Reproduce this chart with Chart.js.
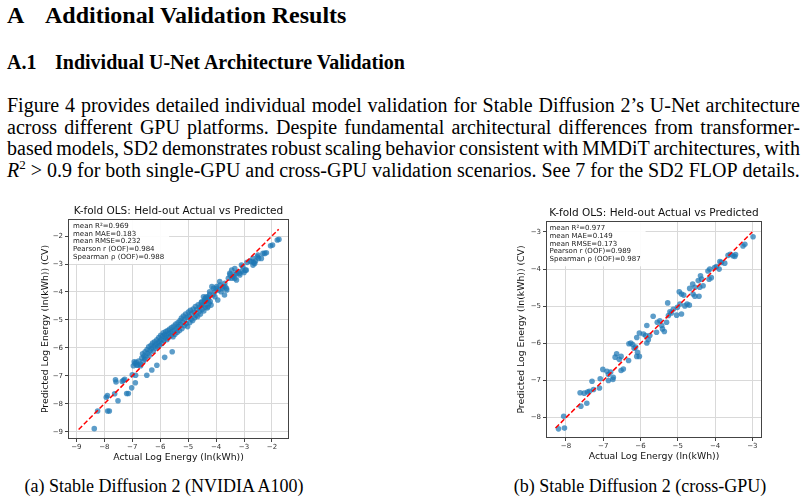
<!DOCTYPE html>
<html><head><meta charset="utf-8">
<script src="https://cdn.jsdelivr.net/npm/chart.js@4/dist/chart.umd.min.js"></script>
<style>
html,body{margin:0;padding:0;background:#fff;width:807px;height:500px;overflow:hidden;}
body{position:relative;font-family:"Liberation Serif","Times New Roman",serif;color:#000;}
.t{position:absolute;white-space:nowrap;line-height:1;}
.h1{font-weight:bold;font-size:24px;}
.h2{font-weight:bold;font-size:20px;}
.line{position:absolute;left:7px;width:793px;font-size:20px;line-height:1;display:flex;justify-content:space-between;white-space:nowrap;}
.cap{font-size:18px;}
canvas{position:absolute;}
</style></head>
<body>
<div class="t h1" style="left:7px;top:3px;">A</div>
<div class="t h1" style="left:45px;top:3px;">Additional Validation Results</div>
<div class="t h2" style="left:7px;top:52px;">A.1</div>
<div class="t h2" style="left:55px;top:52px;">Individual U-Net Architecture Validation</div>
<div id="para"></div>
<canvas id="cA" width="310" height="270" style="left:0px;top:200px;"></canvas>
<canvas id="cB" width="310" height="270" style="left:480px;top:200px;"></canvas>
<div class="t cap" style="left:164px;top:477px;transform:translateX(-50%);">(a) Stable Diffusion 2 (NVIDIA A100)</div>
<div class="t cap" style="left:640px;top:477px;transform:translateX(-50%);">(b) Stable Diffusion 2 (cross-GPU)</div>
<script>
// ---------- text ----------
const paraLines = [
  "Figure 4 provides detailed individual model validation for Stable Diffusion 2\u2019s U-Net architecture",
  "across different GPU platforms. Despite fundamental architectural differences from transformer-",
  "based models, SD2 demonstrates robust scaling behavior consistent with MMDiT architectures, with",
  "@R2 > 0.9 for both single-GPU and cross-GPU validation scenarios. See 7 for the SD2 FLOP details."
];
const paraTops = [95, 117, 138, 160];

// ---------- chart data ----------
const chartTitle = "K-fold OLS: Held-out Actual vs Predicted";
const xAxisTitle = "Actual Log Energy (ln(kWh))";
const yAxisTitle = "Predicted Log Energy (ln(kWh)) (CV)";

const ticksA = [-9, -8, -7, -6, -5, -4, -3, -2];
const ticksB = [-8, -7, -6, -5, -4, -3];
const rangeAx = [-9.30, -1.39];
const rangeAy = [-9.26, -1.39];
const rangeBx = [-8.535, -2.74];
const rangeBy = [-8.547, -2.705];
const refLineA = [-8.92, -1.76];
const refLineB = [-8.28, -3.0];

const statsA = ["mean R\u00b2=0.969", "mean MAE=0.183", "mean RMSE=0.232", "Pearson r (OOF)=0.984", "Spearman \u03c1 (OOF)=0.988"];
const statsB = ["mean R\u00b2=0.977", "mean MAE=0.149", "mean RMSE=0.173", "Pearson r (OOF)=0.989", "Spearman \u03c1 (OOF)=0.987"];

// (a) NVIDIA A100: [actual, predicted]
const pointsA = [
 [-8.36,-8.89],[-8.24,-8.26],[-7.88,-8.26],[-7.82,-8.26],[-7.93,-7.77],[-7.89,-7.71],[-7.63,-7.64],[-7.51,-7.89],
 [-7.60,-7.14],[-7.58,-7.22],[-7.36,-7.20],[-7.31,-7.16],[-7.27,-7.12],[-7.20,-7.63],[-7.14,-7.63],[-7.02,-7.43],
 [-6.89,-7.25],[-6.93,-6.50],[-6.90,-6.56],[-6.96,-6.64],[-7.00,-6.96],[-6.88,-6.98],[-6.84,-6.62],[-6.70,-6.64],
 [-6.60,-6.48],[-6.55,-6.40],[-6.48,-6.98],[-6.30,-6.79],[-6.12,-6.62],[-5.84,-6.34],[-5.57,-6.14],
 [-6.86,-6.52],[-6.80,-6.61],[-6.77,-6.47],[-6.71,-6.58],[-6.66,-6.36],[-6.63,-6.21],[-6.58,-6.29],[-6.54,-6.14],
 [-6.51,-6.33],[-6.47,-6.06],[-6.44,-6.19],[-6.41,-5.96],[-6.39,-6.27],[-6.36,-6.09],[-6.33,-5.91],[-6.31,-6.02],
 [-6.27,-5.83],[-6.25,-6.12],[-6.22,-5.94],[-6.20,-5.78],[-6.17,-6.01],[-6.15,-5.87],[-6.12,-5.71],[-6.10,-5.96],
 [-6.07,-5.82],[-6.05,-5.63],[-6.03,-5.91],[-6.01,-5.76],[-5.98,-5.55],[-5.96,-5.69],[-5.94,-5.84],[-5.91,-5.58],
 [-5.89,-5.46],[-5.87,-5.73],[-5.84,-5.52],[-5.82,-5.64],[-5.80,-5.42],
 [-5.78,-5.57],[-5.76,-5.71],[-5.73,-5.38],[-5.71,-5.49],[-5.69,-5.62],[-5.66,-5.33],[-5.64,-5.46],[-5.61,-5.55],
 [-5.59,-5.27],[-5.56,-5.41],[-5.54,-5.60],[-5.51,-5.22],[-5.49,-5.36],[-5.47,-5.51],[-5.44,-5.15],[-5.41,-5.29],
 [-5.39,-5.44],[-5.36,-5.09],[-5.34,-5.24],[-5.31,-5.38],
 [-5.29,-5.02],[-5.27,-5.17],[-5.24,-4.93],[-5.22,-5.31],[-5.19,-5.08],[-5.17,-4.86],[-5.14,-5.21],[-5.12,-4.98],
 [-5.09,-4.79],[-5.07,-5.13],[-5.04,-4.91],[-5.02,-5.24],[-4.99,-4.72],[-4.97,-4.86],[-4.94,-5.09],[-4.92,-4.66],
 [-4.89,-4.97],[-4.87,-4.78],[-4.84,-5.02],[-4.82,-4.61],
 [-4.79,-4.73],[-4.77,-4.92],[-4.74,-4.52],[-4.72,-4.84],[-4.69,-4.63],[-4.66,-4.88],[-4.64,-4.46],[-4.61,-4.71],
 [-4.58,-4.55],[-4.56,-4.79],[-4.53,-4.38],[-4.50,-4.62],[-4.47,-4.47],[-4.44,-4.68],[-4.41,-4.29],[-4.38,-4.54],
 [-4.35,-4.33],[-4.32,-4.57],[-4.29,-4.18],[-4.26,-4.41],[-4.23,-4.09],[-4.21,-4.34],
 [-4.45,-4.17],[-4.39,-4.23],[-4.51,-4.35],[-4.15,-3.81],[-4.09,-3.87],[-3.98,-3.81],[-3.92,-3.93],[-3.86,-3.75],
 [-3.78,-3.87],[-3.68,-3.81],[-3.62,-3.93],[-3.70,-4.11],[-4.27,-4.23],[-4.18,-4.47],[-4.04,-4.17],[-3.94,-4.29],
 [-3.82,-3.99],[-3.56,-3.51],[-3.50,-3.39],[-3.44,-3.51],[-3.35,-3.39],[-3.27,-3.33],[-3.21,-3.28],[-3.15,-3.39],
 [-3.07,-3.25],[-3.00,-3.30],[-2.95,-3.22],[-3.33,-3.16],[-3.44,-3.22],[-3.09,-3.04],[-2.89,-2.94],[-2.79,-2.89],
 [-2.68,-2.80],[-2.59,-2.89],[-2.52,-2.74],[-2.48,-2.80],[-2.32,-2.62],[-2.05,-2.35],[-1.81,-2.14],[-2.20,-2.60],
 [-2.65,-2.95],[-1.98,-2.32],[-1.75,-2.12],[-2.26,-2.62],[-2.50,-2.68],[-2.38,-2.80],[-2.74,-2.92],[-2.62,-2.98],
 [-2.68,-3.04],[-2.92,-3.22],[-3.04,-3.10],[-3.16,-3.33],[-3.33,-3.51],[-3.27,-3.57],[-3.40,-3.46],[-3.51,-3.33],
 [-3.69,-3.69],[-3.75,-3.81],[-3.63,-3.87],[-3.87,-3.63],[-3.99,-3.87],[-4.05,-3.99],[-4.23,-3.99],[-4.11,-4.11],
 [-4.35,-4.17],[-4.41,-4.35],[-4.53,-4.47],[-4.29,-4.53]
];

// (b) cross-GPU: [actual, predicted]
const pointsB = [
 [-8.20,-8.30],[-8.04,-8.28],[-8.06,-7.96],[-7.62,-7.33],[-7.51,-7.34],[-7.42,-7.31],[-7.37,-7.29],[-7.60,-7.69],
 [-7.44,-7.61],[-7.30,-7.02],[-7.26,-7.24],[-7.10,-7.20],[-7.08,-6.95],[-7.01,-6.70],[-6.90,-6.75],[-6.86,-7.00],
 [-6.74,-6.97],[-6.86,-6.84],[-6.80,-6.77],[-6.73,-6.91],[-6.68,-6.37],[-6.64,-6.28],[-6.57,-6.43],[-6.46,-6.69],
 [-6.52,-6.73],[-6.52,-6.35],[-6.32,-6.46],[-6.31,-6.01],[-6.26,-5.99],[-6.21,-6.03],[-6.17,-6.13],[-6.13,-6.10],
 [-6.10,-6.35],[-6.03,-6.35],[-6.08,-6.24],[-6.10,-5.84],[-6.03,-5.72],[-5.92,-5.75],[-5.86,-5.79],[-5.83,-5.99],
 [-5.79,-5.90],[-5.83,-5.52],[-5.75,-5.79],[-5.66,-5.27],[-5.55,-5.43],[-5.48,-5.39],[-5.43,-5.52],[-5.41,-5.61],
 [-5.36,-5.68],[-5.57,-5.70],[-5.30,-5.43],[-5.25,-5.25],[-5.17,-5.18],[-5.21,-5.15],[-5.27,-4.91],[-5.12,-5.08],
 [-5.03,-5.24],[-5.01,-5.03],[-4.94,-4.94],[-4.90,-5.21],[-4.96,-4.61],[-4.90,-4.67],[-4.84,-4.70],[-4.81,-4.99],
 [-4.75,-4.94],[-4.69,-4.97],[-4.68,-4.52],[-4.60,-4.40],[-4.54,-4.49],[-4.59,-4.67],[-4.54,-4.73],[-4.43,-4.73],
 [-4.41,-4.49],[-4.45,-4.31],[-4.39,-4.18],[-4.36,-4.27],[-4.32,-4.45],[-4.19,-4.05],[-4.14,-4.00],[-4.16,-4.27],
 [-4.10,-4.23],[-4.01,-3.96],[-3.96,-3.93],[-3.89,-4.00],[-3.87,-3.80],[-3.83,-3.82],[-3.74,-3.84],[-3.65,-3.63],
 [-3.59,-3.60],[-3.52,-3.64],[-3.47,-3.66],[-3.45,-3.61],[-3.25,-3.38],[-3.20,-3.33],[-2.98,-3.13]
];

// ---------- paragraph rendering ----------
const para = document.getElementById('para');
paraLines.forEach((txt, i) => {
  const d = document.createElement('div');
  d.className = 'line';
  d.style.top = paraTops[i] + 'px';
  txt.split(' ').forEach(w => {
    const s = document.createElement('span');
    if (w === '@R2') { s.innerHTML = '<i>R</i><sup style="font-size:13px;vertical-align:8px;line-height:0">2</sup>'; }
    else s.textContent = w;
    d.appendChild(s);
  });
  para.appendChild(d);
});

// ---------- charts ----------
const FONT = '"DejaVu Sans", sans-serif';
const fmt = v => (v < 0 ? '\u2212' : '') + Math.abs(v);

const framePlugin = {
  id: 'frame',
  beforeDatasetsDraw(chart, args, o) {
    const { ctx, chartArea: a } = chart;
    ctx.save();
    ctx.font = '7px ' + FONT;
    const w = Math.max(...o.lines.map(l => ctx.measureText(l).width));
    ctx.fillStyle = 'rgba(255,255,255,0.9)';
    ctx.fillRect(a.left + 1, a.top + 1, w + o.dx + 4, o.dy + (o.lines.length - 1) * o.lh + 6);
    ctx.fillStyle = '#222';
    ctx.textBaseline = 'middle';
    o.lines.forEach((l, i) => ctx.fillText(l, a.left + o.dx, a.top + o.dy + i * o.lh));
    ctx.restore();
  },
  afterDatasetsDraw(chart) {
    const { ctx, chartArea: a } = chart;
    ctx.save();
    ctx.strokeStyle = '#444';
    ctx.lineWidth = 1;
    ctx.strokeRect(Math.round(a.left) + 0.5, Math.round(a.top) + 0.5, Math.round(a.width) - 1, Math.round(a.height) - 1);
    ctx.restore();
  }
};

function axis(range, ticks, size, titleText, titlePad, isX) {
  return {
    type: 'linear', min: range[0], max: range[1],
    afterBuildTicks: s => { s.ticks = ticks.map(v => ({ value: v })); },
    afterFit: s => { if (isX) s.height = size; else s.width = size; },
    grid: { color: '#d9d9d9', lineWidth: 1, drawTicks: true, tickLength: 3, tickColor: '#444' },
    border: { display: false },
    ticks: { font: { family: FONT, size: 7 }, color: '#333', padding: isX ? 1 : 2, maxRotation: 0, autoSkip: false, callback: fmt },
    title: { display: true, text: titleText, font: { family: FONT, size: 9.3 }, color: '#111', padding: titlePad }
  };
}

function makeChart(id, pts, ref, ticks, rx, ry, stats, g) {
  return new Chart(document.getElementById(id), {
    type: 'scatter',
    data: { datasets: [
      { type: 'line', data: ref.map(v => ({ x: v, y: v })), borderColor: '#ff0000', borderWidth: 1.5,
        borderDash: [5, 2.4], pointRadius: 0, fill: false },
      { data: pts.map(p => ({ x: p[0], y: p[1] })), backgroundColor: 'rgba(31,119,180,0.72)',
        borderWidth: 0, pointRadius: 2.8 }
    ] },
    options: {
      responsive: false, animation: false, events: [],
      layout: { padding: { left: g.pl, right: g.pr, top: 0, bottom: 0 } },
      plugins: {
        legend: { display: false }, tooltip: { enabled: false },
        title: { display: true, text: chartTitle, fullSize: false, color: '#111',
          font: { family: FONT, size: 10.5, weight: 'normal' }, padding: { top: g.tt, bottom: g.tb } },
        frame: { lines: stats, dx: g.sdx, dy: g.sdy, lh: 7.75 }
      },
      scales: {
        x: axis(rx, ticks, g.xh, xAxisTitle, { top: 0, bottom: g.xtb }, true),
        y: axis(ry, ticks, g.yw, yAxisTitle, { top: g.ytt, bottom: 0 }, false)
      }
    },
    plugins: [framePlugin]
  });
}

makeChart('cA', pointsA, refLineA, ticksA, rangeAx, rangeAy, statsA,
  { pl: 35, pr: 21, tt: 4.5, tb: 1.9, xh: 31, xtb: 6.6, yw: 33, ytt: 4.6, sdx: 5, sdy: 7 });
makeChart('cB', pointsB, refLineB, ticksB, rangeBx, rangeBy, statsB,
  { pl: 32, pr: 28, tt: 6.5, tb: 1.9, xh: 32, xtb: 7.6, yw: 34, ytt: 4.3, sdx: 3.5, sdy: 7.3 });
</script>
</body></html>
